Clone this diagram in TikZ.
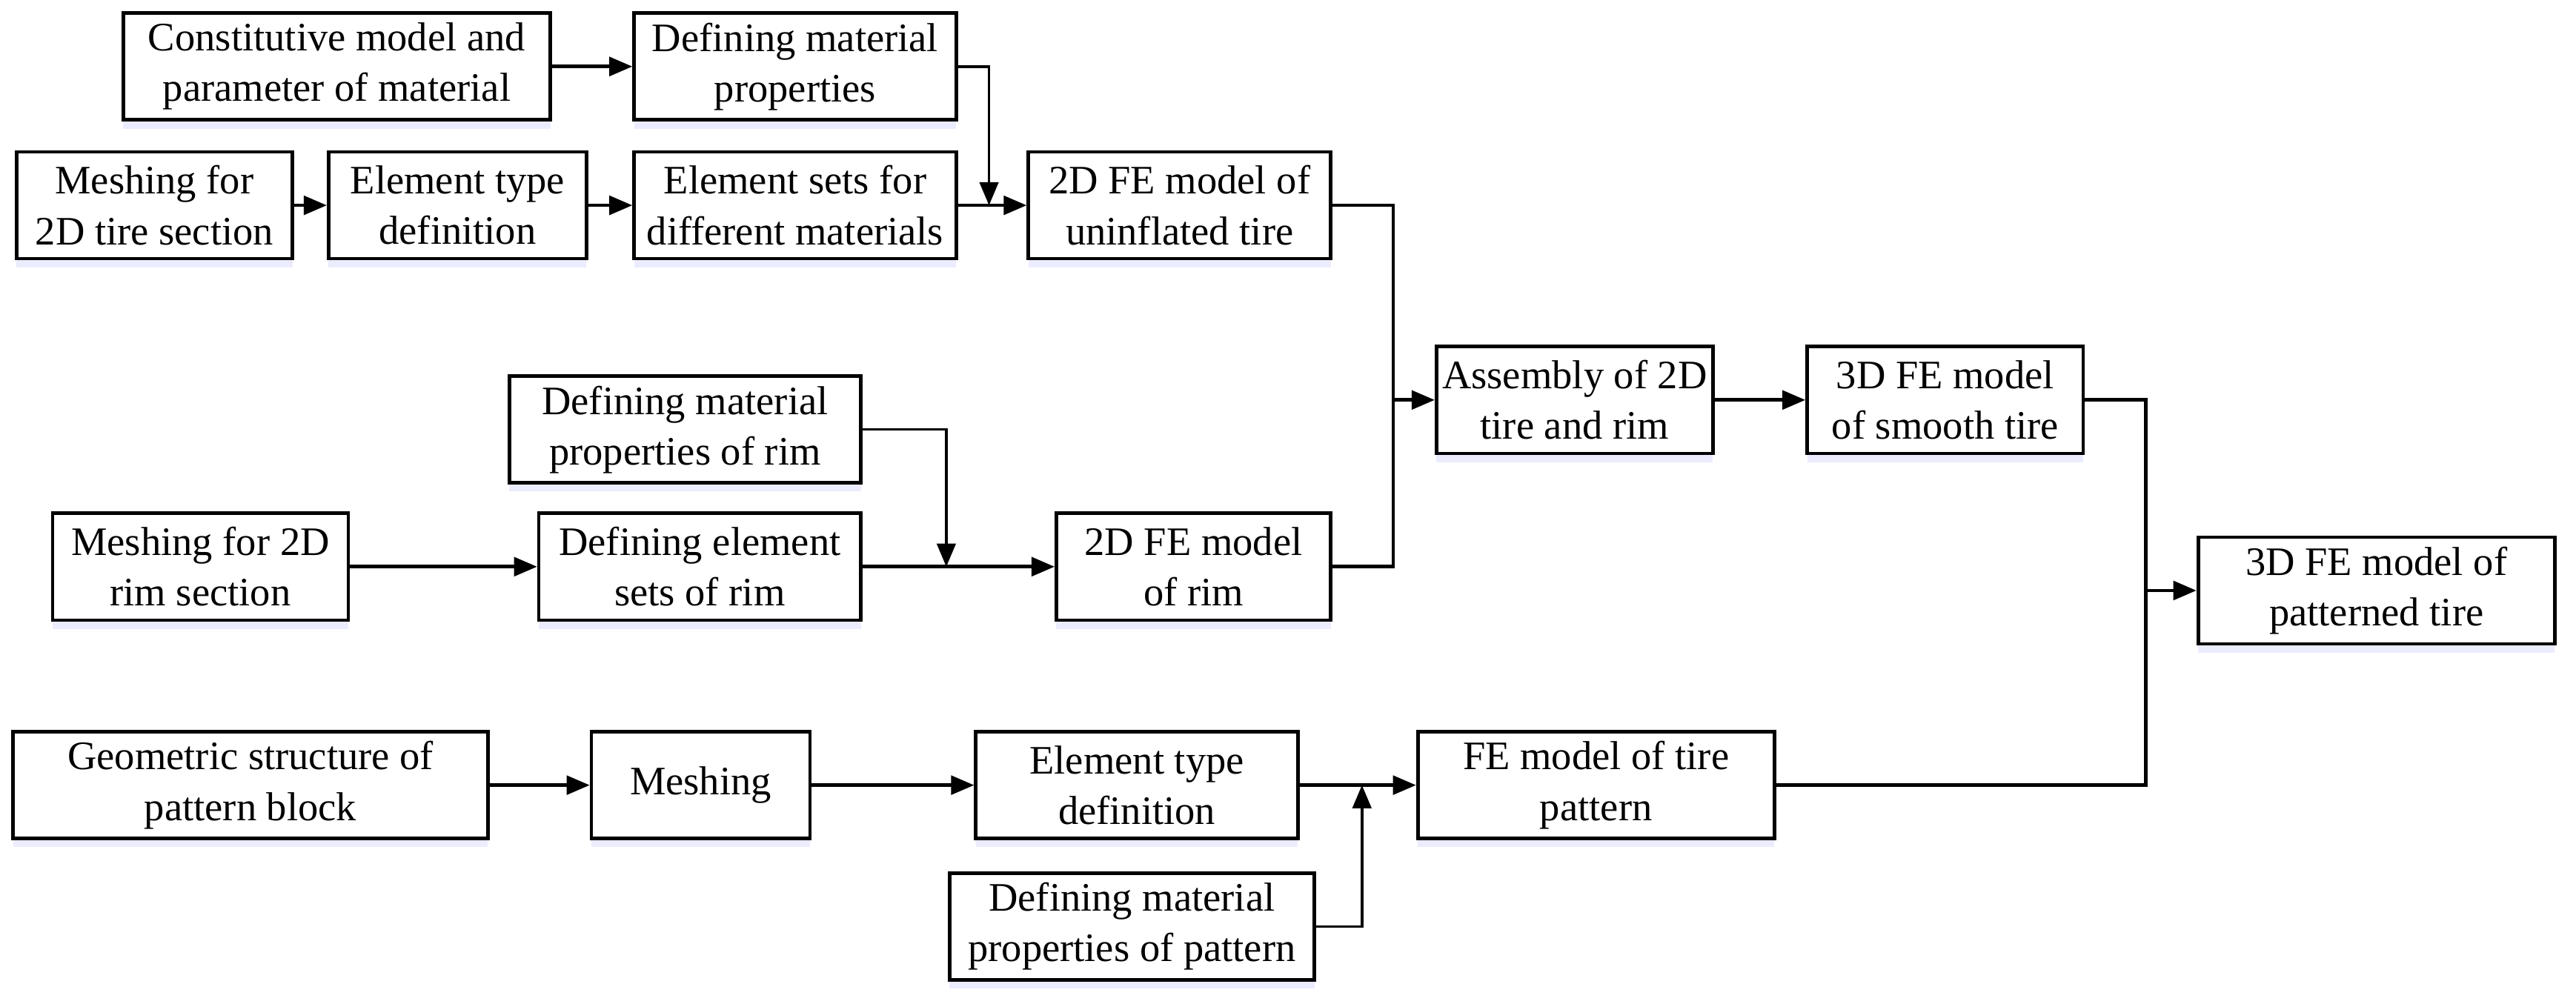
\documentclass[tikz,border=0pt]{standalone}
\usepackage{fontspec}
\setmainfont{Liberation Serif}
\usetikzlibrary{arrows, arrows.meta, positioning, calc, shadows}

\begin{document}
\begin{tikzpicture}[
    block/.style={rectangle, draw=black, line width=1.2pt, fill=white, align=center, minimum height=1.3cm, inner sep=2pt, font=\fontsize{14pt}{17.5pt}\selectfont, drop shadow={shadow xshift=0pt, shadow yshift=-3pt, fill=blue!12, opacity=0.6}},
    arrow/.style={line width=1.2pt,->,>={Triangle[length=8pt,width=6.5pt]}},
    feed/.style={line width=0.9pt,->,>={Triangle[length=8pt,width=6.5pt]}},
    link/.style={line width=1.2pt}
]
\useasboundingbox (0,0) rectangle (31.36,-12.22);

% 2D tire branch
\node[block, minimum width=5.2cm] (constit) at (4.10,-0.81) {Constitutive model and\\parameter of material};
\node[block, minimum width=3.92cm] (defmat) at (9.68,-0.81) {Defining material\\properties};
\node[block, minimum width=3.36cm] (meshtire) at (1.88,-2.5) {Meshing for\\2D tire section};
\node[block, minimum width=3.14cm] (eltype) at (5.57,-2.5) {Element type\\definition};
\node[block, minimum width=3.92cm] (eltsets) at (9.68,-2.5) {Element sets for\\different materials};
\node[block, minimum width=3.68cm] (tire2d) at (14.36,-2.5) {2D FE model of\\uninflated tire};

% 2D rim branch
\node[block, minimum width=4.28cm] (rimmat) at (8.34,-5.23) {Defining material\\properties of rim};
\node[block, minimum width=3.6cm] (meshrim) at (2.44,-6.9) {Meshing for 2D\\rim section};
\node[block, minimum width=3.92cm] (rimsets) at (8.52,-6.9) {Defining element\\sets of rim};
\node[block, minimum width=3.34cm] (rim2d) at (14.53,-6.9) {2D FE model\\of rim};

% Assembly and 3D models
\node[block, minimum width=3.14cm] (assembly) at (19.17,-4.87) {Assembly of 2D\\tire and rim};
\node[block, minimum width=3.36cm] (smooth) at (23.68,-4.87) {3D FE model\\of smooth tire};
\node[block, minimum width=4.34cm] (patterned) at (28.93,-7.19) {3D FE model of\\patterned tire};

% Pattern branch
\node[block, minimum width=5.78cm] (geom) at (3.05,-9.56) {Geometric structure of\\pattern block};
\node[block, minimum width=2.66cm] (meshing) at (8.53,-9.56) {Meshing};
\node[block, minimum width=3.92cm] (eltype2) at (13.84,-9.56) {Element type\\definition};
\node[block, minimum width=4.34cm] (tirepat) at (19.43,-9.56) {FE model of tire\\pattern};
\node[block, minimum width=4.44cm] (patmat) at (13.78,-11.28) {Defining material\\properties of pattern};

% Junctions
\coordinate (j1) at (12.04,-2.5);
\coordinate (j2) at (16.96,-4.87);
\coordinate (j3) at (26.12,-7.19);
\coordinate (j4) at (11.52,-6.9);
\coordinate (j5) at (16.58,-9.56);

% Connections
\draw[arrow] (constit) -- (defmat);
\draw[arrow] (meshtire) -- (eltype);
\draw[arrow] (eltype) -- (eltsets);
\draw[arrow] (eltsets) -- (tire2d);
\draw[feed] (defmat.east) -| (j1);

\draw[arrow] (meshrim) -- (rimsets);
\draw[arrow] (rimsets) -- (rim2d);
\draw[feed] (rimmat.east) -| (j4);

\draw[link] (tire2d.east) -| (j2) |- (rim2d.east);
\draw[arrow] (j2) -- (assembly);
\draw[arrow] (assembly) -- (smooth);

\draw[arrow] (geom) -- (meshing);
\draw[arrow] (meshing) -- (eltype2);
\draw[arrow] (eltype2) -- (tirepat);
\draw[feed] (patmat.east) -| (j5);

\draw[link] (smooth.east) -| (j3) |- (tirepat.east);
\draw[arrow] (j3) -- (patterned);

\end{tikzpicture}
\end{document}
